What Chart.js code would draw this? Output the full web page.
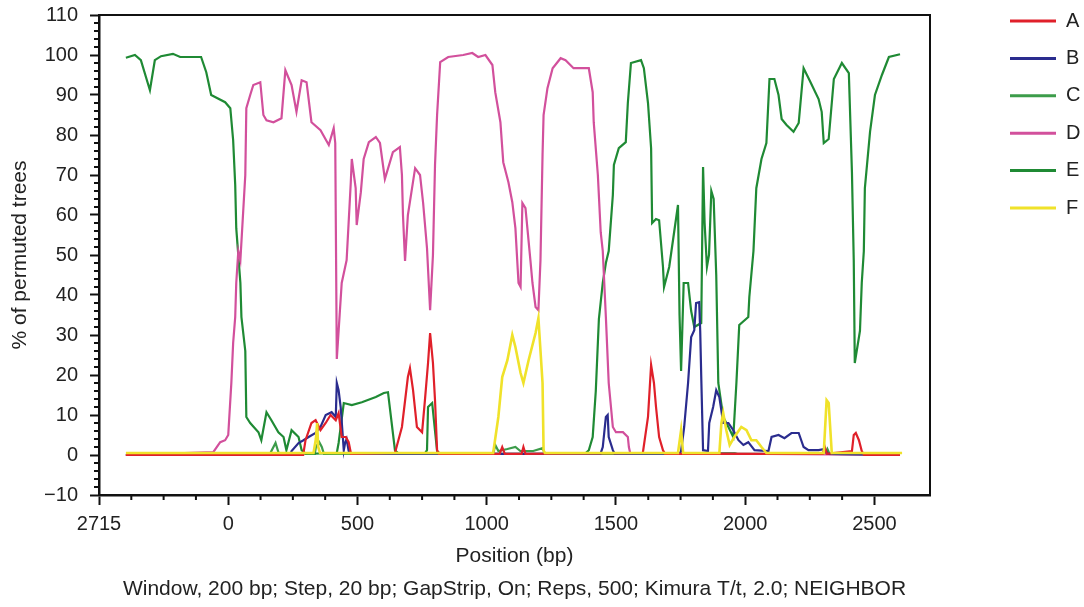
<!DOCTYPE html>
<html lang="en">
  <head>
    <meta charset="UTF-8" />
    <title>Bootscan</title>
    <style>
      body { margin: 0; background: #fff; }
    </style>
  </head>
  <body>
    <canvas id="myChart" width="1084" height="607"></canvas>
    <script src="https://cdn.jsdelivr.net/npm/chart.js"></script>
    <script>
      // series: [position (bp), % of permuted trees]
      const seriesA = [[-396,0],[290,0],[299,3.7],[322,8],[338,8.7],[357,6.2],[377,8],[396,10],[416,8.7],[427,10.5],[439,4.5],[455,4.5],[466,3.2],[475,0.3],[645,0.5],[672,7],[695,19.5],[703,21.7],[715,16.2],[730,7],[750,5.7],[761,13.7],[773,23],[781,30.5],[792,23],[800,13.7],[808,1.2],[815,0.3],[1050,0.3],[1060,2],[1070,0.3],[1135,0.3],[1142,2],[1150,0.3],[1604,0.5],[1624,9.5],[1636,22.5],[1647,18],[1655,12],[1667,4.5],[1682,1.2],[1690,0.3],[2300,0.3],[2308,2],[2316,0.3],[2413,1],[2420,5],[2428,5.5],[2440,3.7],[2451,1],[2460,0],[2599,0]];
      const seriesB = [[-396,0],[240,0],[245,1],[272,3],[291,3.7],[311,4.5],[338,5.5],[357,7],[377,10],[400,10.7],[416,9.5],[420,18],[427,16.2],[435,12],[447,1.2],[452,3],[458,4],[466,1],[475,0.3],[1440,0.3],[1449,2],[1461,9.5],[1468,10],[1472,4.5],[1488,1.2],[1495,0.3],[1745,0.3],[1752,1],[1764,7],[1779,18],[1791,29.5],[1803,31.2],[1810,38],[1822,38.2],[1826,31],[1830,19.5],[1837,1.2],[1856,1],[1861,8],[1876,12],[1888,16.2],[1900,14.5],[1915,8],[1935,8],[1954,6.2],[1974,3.7],[1993,2.5],[2012,3.2],[2036,1.2],[2090,1],[2102,4.5],[2129,5],[2152,4.2],[2179,5.5],[2207,5.5],[2226,2],[2245,1.2],[2284,1.2],[2308,1.5],[2320,0.3],[2599,0]];
      const seriesC = [[-396,0],[160,0],[167,1],[183,3],[195,0.5],[335,0.3],[339,2],[352,3.2],[362,2],[370,0.3],[1025,0.3],[1033,2.5],[1045,1],[1080,1.5],[1111,2],[1130,1],[1180,1],[1216,1.7],[1225,0.3],[1880,0.3],[1900,0.5],[1960,0.5],[1970,0.3],[2310,0.3],[2318,1.5],[2326,0.3],[2599,0]];
      const seriesD = [[-396,0],[-58,0.7],[-31,3.2],[-12,3.7],[0,5],[12,18],[19,28],[27,34.5],[31,43],[39,51],[47,48.7],[66,70],[70,86.7],[85,90],[97,92.5],[124,93.2],[136,85],[148,83.7],[175,83.2],[206,84.2],[221,96.2],[245,92.5],[264,85.8],[284,93.7],[303,93.2],[322,83.2],[357,81.2],[389,77.5],[408,81.7],[414,78],[420,24],[431,35],[439,43],[458,48.7],[474,68],[478,74],[493,66.7],[497,57.5],[513,65.7],[524,74],[544,78.2],[571,79.5],[587,78],[606,69],[637,75.7],[664,77],[672,70],[676,60],[684,48.5],[695,60],[723,71.7],[742,70],[754,63],[769,51.7],[781,36.2],[792,50],[800,72.5],[808,85],[820,98.2],[851,99.5],[909,100],[944,100.5],[967,99.5],[995,100],[1022,97.5],[1033,90.7],[1053,83.2],[1064,73.2],[1084,68.2],[1099,63.2],[1111,56.7],[1123,43],[1131,42],[1138,63],[1150,61.7],[1169,48.7],[1177,43],[1189,37],[1200,36.2],[1208,48.7],[1216,75],[1220,85],[1235,91.7],[1255,96.7],[1286,99.2],[1305,98.7],[1336,96.7],[1395,96.7],[1410,90.7],[1414,83.2],[1430,70],[1441,55.7],[1449,51],[1461,34.5],[1472,18],[1488,7],[1500,5.7],[1527,5.7],[1546,4.5],[1550,2],[1555,0.5],[2599,0]];
      const seriesE = [[-396,99.3],[-361,100],[-338,98.7],[-303,91.2],[-284,98.7],[-260,99.7],[-214,100.3],[-186,99.5],[-105,99.5],[-85,95.7],[-66,90],[-12,88.2],[8,86.7],[19,78.7],[27,67.5],[31,56.7],[47,43],[51,34.5],[66,26],[70,9.5],[85,8],[117,5.7],[128,3.7],[148,10.7],[167,8.7],[194,5.7],[214,4.5],[225,1.2],[245,6.2],[272,4.5],[284,1.2],[300,0.3],[420,0.5],[427,3],[447,13],[478,12.5],[517,13.2],[571,14.5],[602,15.5],[618,15.7],[645,1.2],[660,0.3],[760,0.3],[769,1.2],[773,12],[789,13],[800,6],[808,1],[820,0.3],[1380,0.3],[1395,1.2],[1410,4.5],[1422,16],[1434,34],[1449,43],[1461,48],[1472,51],[1488,65],[1492,72.5],[1511,76.7],[1538,78.2],[1546,88],[1558,98],[1597,98.7],[1608,96.7],[1624,88],[1636,76.7],[1640,58],[1655,59],[1667,58.7],[1682,47],[1686,42],[1706,47],[1740,62.5],[1746,35],[1752,21],[1762,43],[1779,43],[1791,36],[1803,32],[1830,33],[1837,72],[1843,58],[1852,47],[1860,50],[1869,66],[1878,64],[1888,45],[1896,18],[1915,9.5],[1935,7],[1954,4.5],[1966,18],[1977,32.5],[2012,34.5],[2016,39.5],[2032,51],[2043,66.7],[2063,74],[2082,78],[2094,94],[2113,94],[2129,90],[2141,84],[2160,82.5],[2187,80.8],[2207,83],[2226,96.7],[2249,93.7],[2284,89],[2296,85.8],[2304,78],[2323,79],[2343,94],[2374,98],[2401,95.5],[2413,70.7],[2420,48.7],[2424,23],[2444,31],[2451,43],[2459,51],[2463,66.7],[2483,80.8],[2502,90],[2529,95],[2556,99.5],[2599,100.2]];
      const seriesF = [[-396,0.5],[330,0.5],[339,4],[344,8],[348,2],[355,0.5],[1025,0.5],[1045,9.5],[1060,19.5],[1080,23.7],[1099,30],[1111,27],[1131,20.5],[1142,18],[1162,23.7],[1189,30.5],[1200,34.2],[1216,18],[1220,1.2],[1225,0.5],[1740,0.5],[1752,6.2],[1760,0.5],[1900,0.5],[1908,8],[1915,10.5],[1927,6.2],[1940,2.5],[1958,4.5],[1985,7],[2005,6.2],[2024,3.7],[2043,3.7],[2063,2],[2082,0.5],[2304,0.5],[2315,13.7],[2323,13],[2335,0.5],[2607,0.5]];

      const seriesNames = ["A", "B", "C", "D", "E", "F"];
      const seriesColors = ["#e0202a", "#2a2c8e", "#3c9c4a", "#d2509c", "#1f8a34", "#f0e22a"];

      // axis ticks
      const xTickValues = [-500, 0, 500, 1000, 1500, 2000, 2500];
      const xTickLabels = ["2715", "0", "500", "1000", "1500", "2000", "2500"];
      const xMinorTicks = [-375, -250, -125, 125, 250, 375, 625, 750, 875, 1125, 1250, 1375, 1625, 1750, 1875, 2125, 2250, 2375];
      const yMinorTicks = [-8, -6, -4, -2, 2, 4, 6, 8, 12, 14, 16, 18, 22, 24, 26, 28, 32, 34, 36, 38, 42, 44, 46, 48, 52, 54, 56, 58, 62, 64, 66, 68, 72, 74, 76, 78, 82, 84, 86, 88, 92, 94, 96, 98, 102, 104, 106, 108];

      const caption = "Window, 200 bp; Step, 20 bp; GapStrip, On; Reps, 500; Kimura T/t, 2.0; NEIGHBOR";
      const font = "'Liberation Sans', Arial, sans-serif";
      Chart.defaults.font.family = font;
      Chart.defaults.color = "#222";

      const allSeries = [seriesA, seriesB, seriesC, seriesD, seriesE, seriesF];
      const drawOrder = [1, 2, 5, 3, 4, 0]; // yellow on top
      const datasets = allSeries.map((s, i) => ({
        label: seriesNames[i],
        data: s.map((p) => ({ x: p[0], y: p[1] })),
        borderColor: seriesColors[i],
        backgroundColor: seriesColors[i],
        borderWidth: i === 5 ? 2.6 : 2.2,
        pointRadius: 0,
        tension: 0,
        order: drawOrder[i],
      }));

      const frameTicks = {
        id: "frameTicks",
        afterDraw(chart) {
          const { ctx, chartArea: a, scales } = chart;
          ctx.save();
          ctx.strokeStyle = "#111";
          ctx.lineWidth = 2;
          ctx.beginPath();
          ctx.moveTo(a.left, a.top);
          ctx.lineTo(a.right, a.top);
          ctx.lineTo(a.right, a.bottom);
          ctx.stroke();
          ctx.beginPath();
          xMinorTicks.forEach((v) => {
            const px = scales.x.getPixelForValue(v);
            ctx.moveTo(px, a.bottom);
            ctx.lineTo(px, a.bottom + 5);
          });
          yMinorTicks.forEach((v) => {
            const py = scales.y.getPixelForValue(v);
            ctx.moveTo(a.left, py);
            ctx.lineTo(a.left - 5, py);
          });
          ctx.stroke();
          ctx.restore();
        },
      };

      // legend sits well to the right of the plot box
      const legendPlace = {
        id: "legendPlace",
        beforeLayout(chart) {
          const lg = chart.legend;
          if (lg && !lg._wide) {
            const fit = lg.fit.bind(lg);
            lg.fit = function () {
              fit();
              this.width = 154;
            };
            lg._wide = true;
          }
        },
        afterLayout(chart) {
          const lg = chart.legend;
          lg.left = chart.chartArea.right + 62.6;
          lg.top = -6.4;
        },
      };

      new Chart(document.getElementById("myChart"), {
        type: "line",
        data: { datasets },
        plugins: [frameTicks, legendPlace],
        options: {
          responsive: false,
          animation: false,
          layout: { padding: { top: 15, left: 0, right: 0, bottom: 0 } },
          scales: {
            x: {
              type: "linear",
              min: -500,
              max: 2715,
              afterBuildTicks: (axis) => {
                axis.ticks = xTickValues.map((v) => ({ value: v }));
              },
              afterFit: (scale) => {
                scale.height = 81.4;
              },
              ticks: {
                autoSkip: false,
                maxRotation: 0,
                padding: 7,
                color: "#222",
                font: { size: 20 },
                callback: (value, index) => xTickLabels[index],
              },
              grid: { drawOnChartArea: false, tickLength: 10, tickWidth: 2, tickColor: "#111" },
              border: { color: "#111", width: 2.5 },
              title: {
                display: true,
                text: "Position (bp)",
                color: "#222",
                font: { size: 21 },
                padding: { top: 0, bottom: 7.8 },
              },
            },
            y: {
              min: -10,
              max: 110,
              afterFit: (scale) => {
                scale.width = 99;
                scale.paddingTop = 0;
                scale.paddingBottom = 0;
              },
              ticks: {
                stepSize: 10,
                padding: 12,
                color: "#222",
                font: { size: 20 },
                callback: (value) => (value < 0 ? "\u2212" + Math.abs(value) : String(value)),
              },
              grid: { drawOnChartArea: false, tickLength: 9, tickWidth: 2, tickColor: "#111" },
              border: { color: "#111", width: 2.5 },
              title: {
                display: true,
                text: "% of permuted trees",
                color: "#222",
                font: { size: 21 },
                padding: { top: 7.4, bottom: 0 },
              },
            },
          },
          plugins: {
            legend: {
              position: "right",
              align: "start",
              labels: {
                usePointStyle: true,
                pointStyle: "line",
                pointStyleWidth: 46,
                padding: 17.4,
                color: "#222",
                font: { size: 20 },
                sort: (a, b) => a.datasetIndex - b.datasetIndex,
                generateLabels: (chart) =>
                  Chart.defaults.plugins.legend.labels.generateLabels(chart).map((l) => ({ ...l, lineWidth: 3 })),
              },
            },
            title: {
              display: true,
              position: "bottom",
              fullSize: false,
              text: caption,
              color: "#222",
              font: { size: 21, weight: "normal" },
              padding: { top: 0, bottom: 5.4 },
            },
            tooltip: { enabled: false },
          },
        },
      });
    </script>
  </body>
</html>
